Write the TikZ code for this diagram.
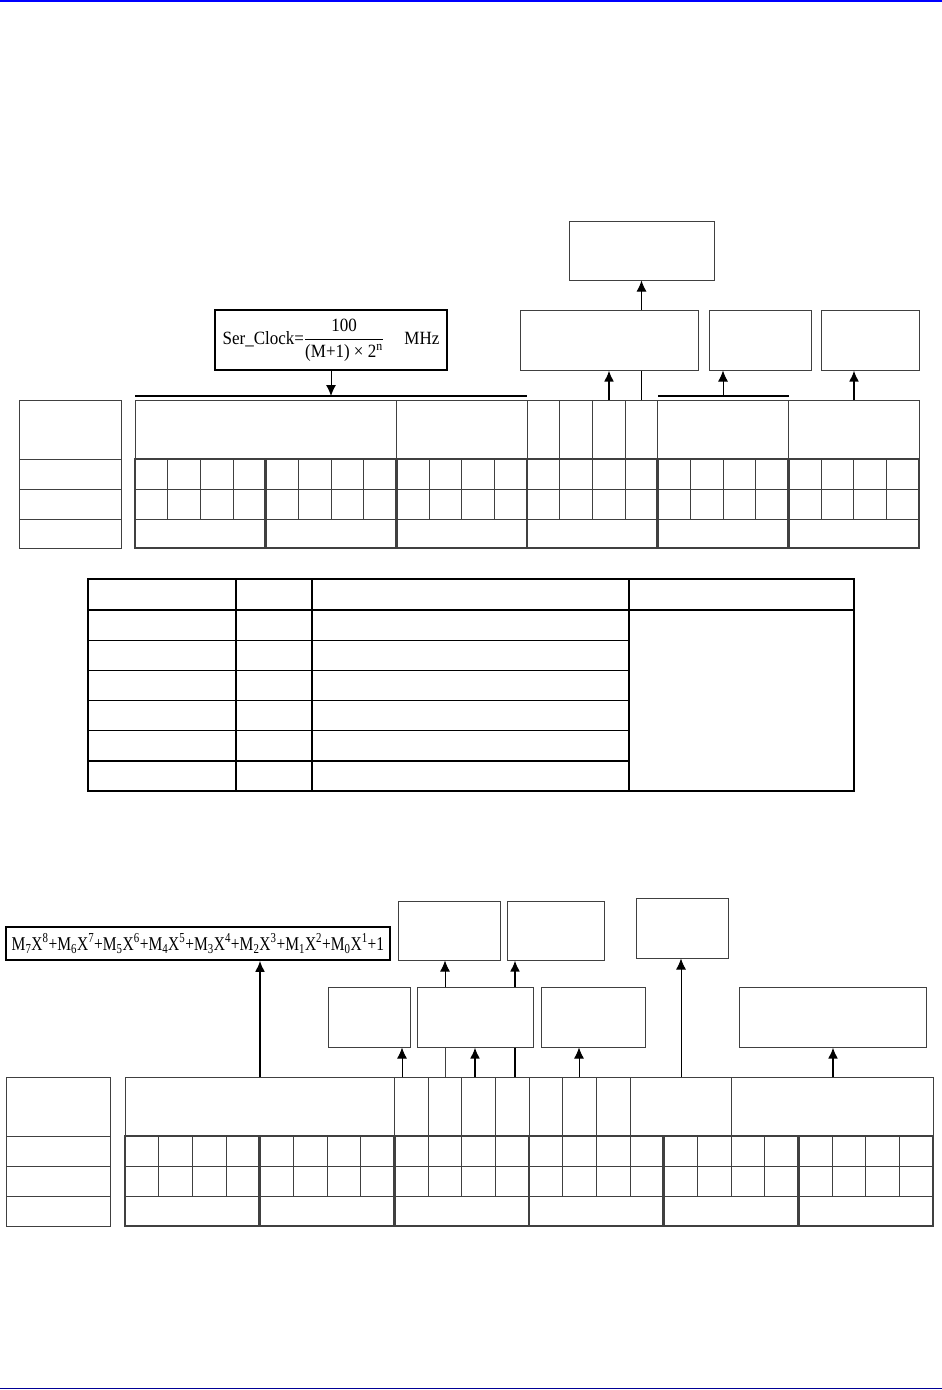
\documentclass[tikz,border=0pt]{standalone}
\usepackage{tikz}
\usepackage{graphicx}
\usepackage{fontspec}
\setmainfont{Liberation Serif}
\usetikzlibrary{arrows.meta, positioning}
\definecolor{xamvien}{RGB}{64,64,64}
\definecolor{xanhtren}{RGB}{0,0,255}
\definecolor{xanhduoi}{RGB}{0,0,150}
\newcommand{\sohang}[2]{M\textsubscript{#1}X\textsuperscript{#2}+}

\begin{document}
\begin{tikzpicture}[x=1pt, y=-1pt,
    hop/.style={draw=xamvien, line width=1pt, inner sep=0pt},
    congthuc/.style={draw=black, line width=1.5pt, inner sep=0pt},
    muiten/.style={-{Latex[length=11pt,width=10pt]}, line width=2pt},
    muitenmanh/.style={-{Latex[length=11pt,width=10pt]}, line width=1pt},
    thanh/.style={line width=2pt},
    luoi/.style={xamvien, line width=1pt},
    luoiday/.style={xamvien, line width=2.5pt}]
    \useasboundingbox (0,0) rectangle (942,1390);

    % Đường kẻ xanh ở đầu và cuối trang
    \draw[xanhtren, line width=2pt] (0,1) -- (942,1);
    \draw[xanhduoi, line width=1.5pt] (0,1388.5) -- (942,1388.5);

    % ===== Phần trên =====
    % Các hộp phía trên bảng thanh ghi
    \node[hop, minimum width=145pt, minimum height=59pt] (tongA) at (641.5,250.5) {};
    \node[hop, minimum width=178pt, minimum height=60pt] (hopB) at (609,340) {};
    \node[hop, minimum width=102pt, minimum height=60pt] (hopC) at (760,340) {};
    \node[hop, minimum width=98pt, minimum height=60pt] (hopD) at (870,340) {};
    % Hộp công thức Ser_Clock
    \node[congthuc, minimum width=232pt, minimum height=60pt, font=\fontsize{17}{20}\selectfont] (ctClock) at (331,340)
        {\scalebox{1}[1.1]{Ser\_Clock=$\displaystyle\frac{\mbox{100}}{\mbox{(M+1) × 2\textsuperscript{n}}}$\hspace{1.2em}MHz}};

    % Thanh ngang đậm phía trên bảng
    \coordinate (thanh1a) at (135,396);
    \coordinate (thanh1b) at (527,396);
    \coordinate (thanh2a) at (658,396);
    \coordinate (thanh2b) at (789,396);
    \draw[thanh] (thanh1a) -- (thanh1b);
    \draw[thanh] (thanh2a) -- (thanh2b);

    % Bảng thanh ghi trên: cột nhãn bên trái
    \draw[luoi] (19,400) rectangle (121,548);
    \foreach \y in {459,489,519}
        \draw[luoi] (19,\y) -- (121,\y);
    % hàng tiêu đề
    \draw[luoi] (135,400) rectangle (919,459);
    \foreach \i in {8,12,13,14,15,16,20}
        \draw[luoi] ({135+\i*32.667},400) -- ({135+\i*32.667},459);
    % các ô bit
    \foreach \i in {1,...,23}
        \draw[luoi] ({135+\i*32.667},459) -- ({135+\i*32.667},519);
    \draw[luoi] (135,489) -- (919,489);
    \draw[luoi] (135,519) -- (919,519);
    % viền đậm theo nhóm 4 bit
    \draw[luoiday] (135,459) rectangle (919,548);
    \foreach \i in {4,8,...,20}
        \draw[luoiday] ({135+\i*32.667},459) -- ({135+\i*32.667},548);

    % Mũi tên phần trên
    \coordinate (a1) at (609,400);
    \coordinate (a2) at (641,400);
    \coordinate (a3) at (854,400);
    \coordinate (diemC) at (723,396);
    \draw[muitenmanh] (ctClock.south) -- (ctClock.south |- thanh1a); % công thức xuống thanh
    \draw[muiten] (a1) -- (a1 |- hopB.south);
    \draw[line width=1pt] (a2) -- (a2 |- hopB.south);
    \draw[muitenmanh] (tongA.south |- hopB.north) -- (tongA.south);
    \draw[muitenmanh] (diemC) -- (diemC |- hopC.south);
    \draw[muiten] (a3) -- (a3 |- hopD.south);

    % ===== Bảng giữa =====
    \draw[line width=1.2pt] (88,579) rectangle (854,791);
    \foreach \x in {236,312,629}
        \draw[line width=1.2pt] (\x,579) -- (\x,791);
    \draw[line width=1.2pt] (88,610) -- (854,610);
    \foreach \y in {640.2,670.4,700.6,730.8,761}
        \draw[line width=1.2pt] (88,\y) -- (629,\y);

    % ===== Phần dưới =====
    % Hộp đa thức
    \node[congthuc, minimum width=384pt, minimum height=33pt, font=\fontsize{16}{19}\selectfont] (ctDaThuc) at (198,943.5)
        {\scalebox{0.97}[1.22]{\sohang{7}{8}\sohang{6}{7}\sohang{5}{6}\sohang{4}{5}\sohang{3}{4}\sohang{2}{3}\sohang{1}{2}\sohang{0}{1}1}};
    % Các hộp hàng trên
    \node[hop, minimum width=102pt, minimum height=59pt] (hopE) at (449,930.5) {};
    \node[hop, minimum width=97pt, minimum height=59pt] (hopF) at (555.5,930.5) {};
    \node[hop, minimum width=92pt, minimum height=60pt] (hopG) at (682,928) {};
    % Các hộp hàng dưới
    \node[hop, minimum width=82pt, minimum height=60pt] (hopH) at (369,1017) {};
    \node[hop, minimum width=116pt, minimum height=60pt] (hopI) at (475,1017) {};
    \node[hop, minimum width=104pt, minimum height=60pt] (hopK) at (593,1017) {};
    \node[hop, minimum width=187pt, minimum height=60pt] (hopL) at (832.5,1017) {};

    % Bảng thanh ghi dưới: cột nhãn bên trái
    \draw[luoi] (6,1077) rectangle (110,1226);
    \foreach \y in {1136,1166,1196}
        \draw[luoi] (6,\y) -- (110,\y);
    % hàng tiêu đề
    \draw[luoi] (125,1077) rectangle (933,1136);
    \foreach \i in {8,9,10,11,12,13,14,15,18}
        \draw[luoi] ({125+\i*33.667},1077) -- ({125+\i*33.667},1136);
    % các ô bit
    \foreach \i in {1,...,23}
        \draw[luoi] ({125+\i*33.667},1136) -- ({125+\i*33.667},1196);
    \draw[luoi] (125,1166) -- (933,1166);
    \draw[luoi] (125,1196) -- (933,1196);
    % viền đậm theo nhóm 4 bit
    \draw[luoiday] (125,1136) rectangle (933,1226);
    \foreach \i in {4,8,...,20}
        \draw[luoiday] ({125+\i*33.667},1136) -- ({125+\i*33.667},1226);

    % Mũi tên phần dưới
    \coordinate (b1) at (260,1077);
    \coordinate (b2) at (402,1077);
    \coordinate (b3) at (445,1077);
    \coordinate (b4) at (475,1077);
    \coordinate (b5) at (515,1077);
    \coordinate (b6) at (579,1077);
    \coordinate (b7) at (681,1077);
    \coordinate (b8) at (833,1077);
    \draw[muiten] (b1) -- (b1 |- ctDaThuc.south);
    \draw[muitenmanh] (b2) -- (b2 |- hopH.south);
    \draw[xamvien, line width=1pt] (b3) -- (b3 |- hopI.south);
    \draw[muiten] (b4) -- (b4 |- hopI.south);
    \draw[line width=2pt] (b5) -- (b5 |- hopI.south);
    \draw[muitenmanh] (b3 |- hopI.north) -- (b3 |- hopE.south);
    \draw[muiten] (b5 |- hopI.north) -- (b5 |- hopF.south);
    \draw[muitenmanh] (b6) -- (b6 |- hopK.south);
    \draw[muitenmanh] (b7) -- (b7 |- hopG.south);
    \draw[muiten] (b8) -- (b8 |- hopL.south);
\end{tikzpicture}
\end{document}
